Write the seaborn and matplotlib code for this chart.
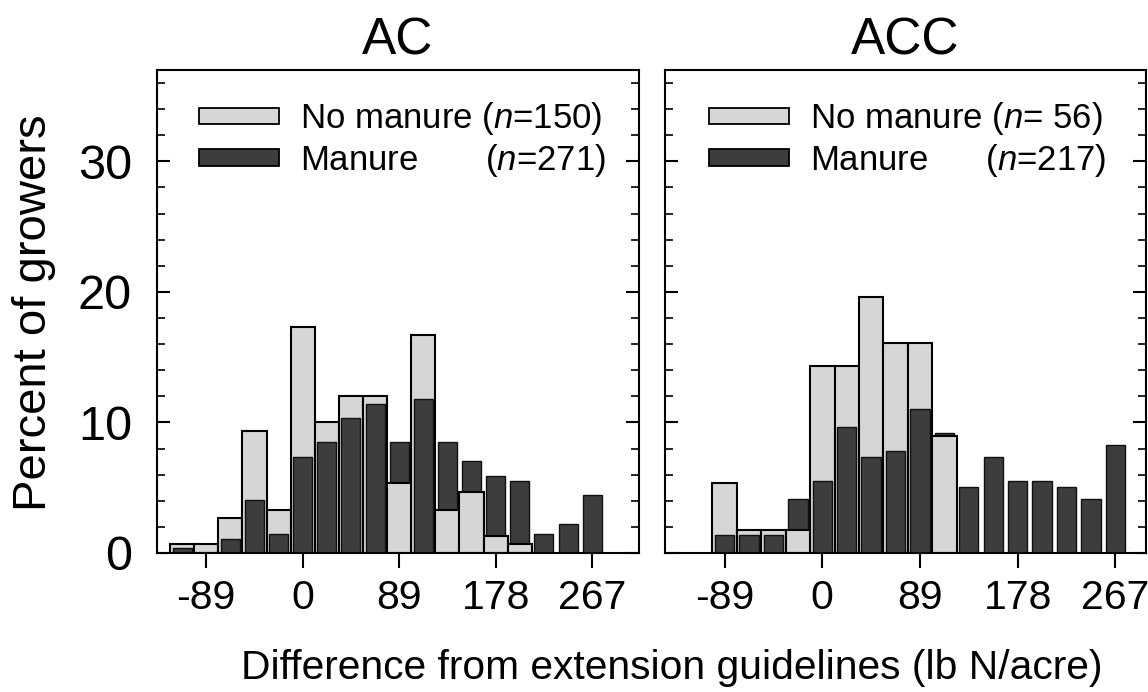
import numpy as np
import pandas as pd
import matplotlib
matplotlib.use("Agg")
import matplotlib.pyplot as plt
import seaborn as sns
from matplotlib.patches import Patch
from matplotlib.ticker import MultipleLocator, FixedLocator

# ---------------- data (percent of growers per 22.25 lb N/acre bin) ----------------
ac_bins = [-111.25, -89, -66.75, -44.5, -22.25, 0, 22.25, 44.5, 66.75, 89,
           111.25, 133.5, 155.75, 178, 200.25, 222.5, 244.75, 267]
ac_no_manure = [0.67, 0.67, 2.67, 9.33, 3.33, 17.33, 10.0, 12.0, 12.0, 5.33,
                16.67, 3.33, 4.67, 1.33, 0.67, 0, 0, 0]
ac_manure = [0.37, 0, 1.11, 4.06, 1.48, 7.38, 8.49, 10.33, 11.44, 8.49,
             11.81, 8.49, 7.01, 5.90, 5.54, 1.48, 2.21, 4.43]

acc_bins = [-89, -66.75, -44.5, -22.25, 0, 22.25, 44.5, 66.75, 89,
            111.25, 133.5, 155.75, 178, 200.25, 222.5, 244.75, 267]
acc_no_manure = [5.36, 1.79, 1.79, 1.79, 14.29, 14.29, 19.64, 16.07, 16.07,
                 8.93, 0, 0, 0, 0, 0, 0, 0]
acc_manure = [1.38, 1.38, 1.38, 4.15, 5.53, 9.68, 7.37, 7.83, 11.06,
              9.22, 5.07, 7.37, 5.53, 5.53, 5.07, 4.15, 8.29]

panel_titles = ["AC", "ACC"]
legend_labels = [
    [r"No manure ($\it{n}$=150)", r"Manure       ($\it{n}$=271)"],
    [r"No manure ($\it{n}$= 56)", r"Manure      ($\it{n}$=217)"],
]
xtick_values = [-89, 0, 89, 178, 267]
xtick_labels = ["-89", "0", "89", "178", "267"]
ytick_values = [0, 10, 20, 30]
xlabel_text = "Difference from extension guidelines (lb N/acre)"
ylabel_text = "Percent of growers"

# ---------------- style ----------------
sns.set_style("ticks")
plt.rcParams["font.family"] = ["Liberation Sans", "DejaVu Sans"]
plt.rcParams["mathtext.fontset"] = "custom"
plt.rcParams["mathtext.rm"] = "Liberation Sans"
plt.rcParams["mathtext.it"] = "Liberation Sans:italic"
for key in ["text.color", "axes.labelcolor", "xtick.color", "ytick.color",
            "axes.edgecolor"]:
    plt.rcParams[key] = "black"

LIGHT = "#d6d6d6"
DARK = "#3d3d3d"
BIN_STEP = 22.25
LIGHT_W = 1.0
DARK_W = 0.79

W, H = 1148, 692
fig = plt.figure(figsize=(W / 100, H / 100), dpi=100)


def frac_box(x0, x1, ytop, ybot):
    return [x0 / W, (H - ybot) / H, (x1 - x0) / W, (ybot - ytop) / H]


def draw_bars(ax, sub, col, rel_width, color, edgecolor, lw, z):
    if len(sub) == 0:
        return
    xs = np.sort(sub["bin"].unique())
    spacing = np.min(np.diff(xs)) if len(xs) > 1 else 1.0
    sns.barplot(data=sub, x="bin", y=col, native_scale=True,
                width=rel_width * BIN_STEP / spacing,
                color=color, edgecolor=edgecolor, linewidth=lw,
                errorbar=None, saturation=1, zorder=z, ax=ax)


ax1 = fig.add_axes(frac_box(157, 639, 70, 553))
ax2 = fig.add_axes(frac_box(665, 1146, 70, 553))

panels = [
    (ax1, ac_bins, ac_no_manure, ac_manure, (-134.4, 310.2), (0.087, 0.937)),
    (ax2, acc_bins, acc_no_manure, acc_manure, (-143.3, 294.9), (0.0915, 0.937)),
]

for i, (ax, bins, light, dark, xlim, legpos) in enumerate(panels):
    df = pd.DataFrame({"bin": bins, "none": light, "manure": dark})
    # taller bar of each pair goes behind, shorter one in front
    light_back = df[(df["none"] > 0) & (df["none"] >= df["manure"])]
    light_front = df[(df["none"] > 0) & (df["none"] < df["manure"])]
    dark_all = df[df["manure"] > 0]
    draw_bars(ax, light_back, "none", LIGHT_W, LIGHT, "black", 1.5, 2)
    draw_bars(ax, dark_all, "manure", DARK_W, DARK, "#111111", 1.0, 3)
    draw_bars(ax, light_front, "none", LIGHT_W, LIGHT, "black", 1.5, 4)

    ax.set_xlim(*xlim)
    ax.set_ylim(0, 37)
    ax.set_xlabel("")
    ax.set_ylabel("")
    for sp in ax.spines.values():
        sp.set_visible(True)
        sp.set_linewidth(1.5)
        sp.set_color("black")
        sp.set_zorder(5)

    ax.xaxis.set_major_locator(FixedLocator(xtick_values))
    ax.set_xticklabels(xtick_labels)
    ax.tick_params(axis="x", which="major", direction="out", length=11,
                   width=1.5, pad=8, labelsize=29.5, bottom=True, top=False,
                   colors="black")
    ax.tick_params(axis="x", which="minor", bottom=False, top=False)

    ax.yaxis.set_major_locator(FixedLocator(ytick_values))
    ax.yaxis.set_minor_locator(MultipleLocator(2))
    ax.tick_params(axis="y", which="major", direction="in", length=9.5,
                   width=1.5, pad=18, labelsize=35, left=True, right=True,
                   colors="black")
    ax.tick_params(axis="y", which="minor", direction="in", length=6,
                   width=1.2, left=True, right=True, colors="black")
    if i == 1:
        ax.tick_params(axis="y", which="both", labelleft=False)

    ax.set_title(panel_titles[i], fontsize=37, pad=11, color="black")

    handles = [Patch(facecolor=LIGHT, edgecolor="black", linewidth=1.3),
               Patch(facecolor=DARK, edgecolor="black", linewidth=1.3)]
    leg = ax.legend(handles, legend_labels[i], loc="upper left",
                    bbox_to_anchor=legpos, frameon=False, fontsize=25,
                    handlelength=2.3, handleheight=0.375, handletextpad=0.6,
                    labelspacing=0.12, borderpad=0, borderaxespad=0)
    for t in leg.get_texts():
        t.set_color("black")

fig.text(672 / W, (H - 679) / H, xlabel_text, ha="center", va="baseline",
         fontsize=29.3, color="black")
fig.text(34 / W, (H - 313) / H, ylabel_text, ha="center", va="center",
         rotation=90, fontsize=34, color="black")

fig.savefig("out.png", dpi=100, facecolor="white")
